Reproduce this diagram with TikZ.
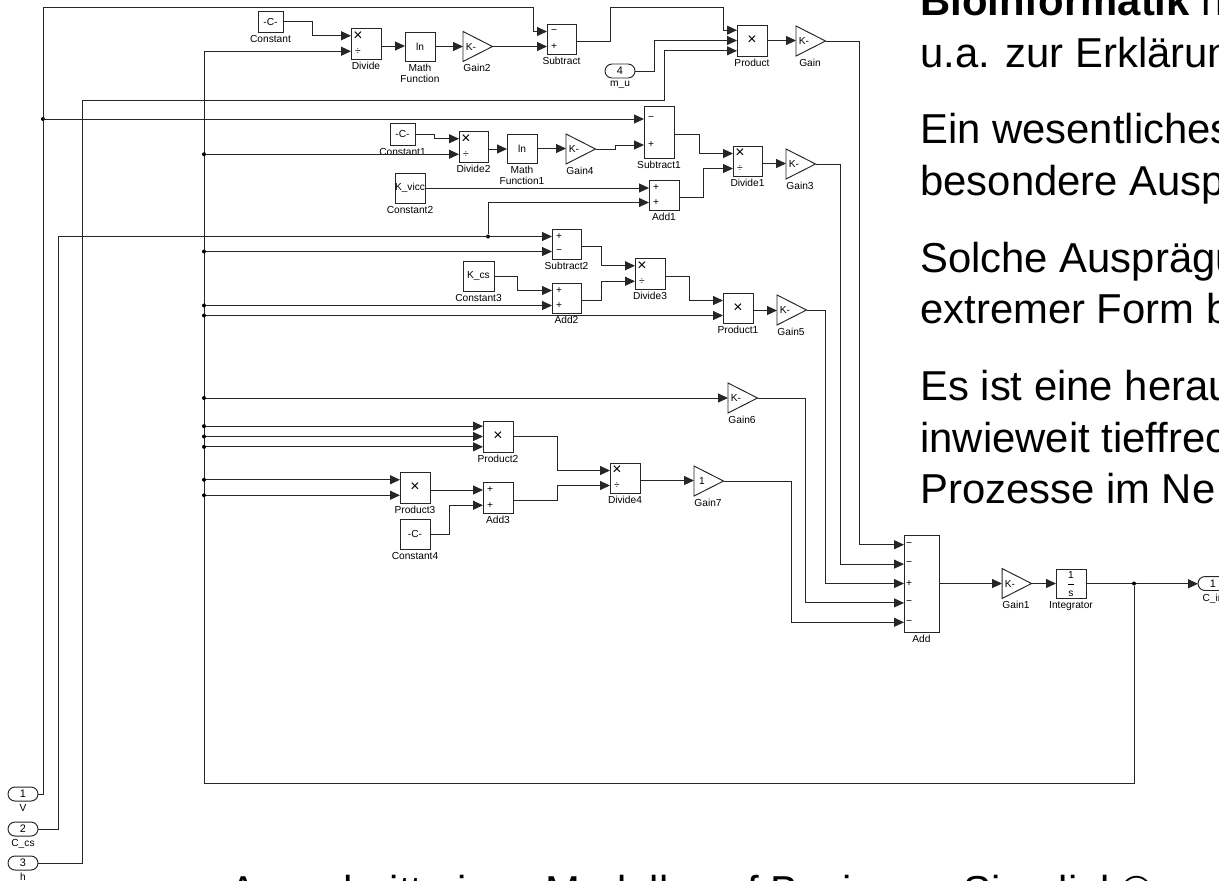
\documentclass[tikz,border=0pt]{standalone}
\usepackage{amsmath}
\usepackage{fontspec}
\setmainfont{Liberation Sans}
\usetikzlibrary{arrows.meta,calc,shapes.geometric,shapes.misc}
\newcommand{\mult}{{\fontsize{9pt}{9pt}\selectfont ×}}
\tikzset{
    wire/.style={line width=.55pt,black!85},
    sig/.style={wire,-{Triangle[length=.2cm,width=.18cm]}},
    lab/.style={font=\fontsize{5.8pt}{6.3pt}\selectfont,inner sep=0pt,align=center},
    block/.style={draw=black!85,line width=.55pt,anchor=north west,inner sep=0pt,outer sep=0pt,font=\fontsize{5.8pt}{6.3pt}\selectfont},
    gain/.style={draw=black!85,line width=.55pt,isosceles triangle,isosceles triangle stretches,inner sep=0pt,outer sep=0pt,minimum width=.6cm,minimum height=.59cm,anchor=lower side},
    port/.style={draw=black!85,line width=.55pt,rounded rectangle,inner sep=0pt,outer sep=0pt,minimum width=.6cm,minimum height=.28cm,font=\fontsize{6.2pt}{7pt}\selectfont},
    dot/.style={circle,fill=black,inner sep=0pt,minimum size=.08cm},
    slidetext/.style={font=\fontsize{23.8pt}{28pt}\selectfont,anchor=base west,inner sep=0pt}
}
\begin{document}
\begin{tikzpicture}[x=0.02cm,y=-0.02cm]
    \useasboundingbox (0,0) rectangle (1219,880);
    \clip (0,0) rectangle (1219,880);
    \foreach \name/\l/\t/\w/\h/\lab/\sym in {
        Constant/258/11/25/21/Constant/-C-,
        Divide/351/28/30/31/Divide/{},
        MathFunction/405/32/30/29/{Math\\Function}/ln,
        Subtract/547/24/29/30/Subtract/{},
        Product/737/25/30/31/Product/\mult,
        Constant1/390/123/25/22/Constant1/-C-,
        Divide2/459/131/29/31/Divide2/{},
        MathFunction1/507/134/30/29/{Math\\Function1}/ln,
        Subtract1/644/106/30/52/Subtract1/{},
        Divide1/733/146/29/30/Divide1/{},
        Constant2/395/173/30/30/Constant2/K\_vicc,
        Add1/649/180/30/30/Add1/{},
        Subtract2/552/229/29/30/Subtract2/{},
        Constant3/463/261/31/30/Constant3/K\_cs,
        Divide3/635/258/30/31/Divide3/{},
        Add2/552/283/29/30/Add2/{},
        Product1/723/293/30/30/Product1/\mult,
        Product2/483/421/30/31/Product2/\mult,
        Divide4/610/463/30/30/Divide4/{},
        Product3/400/472/30/31/Product3/\mult,
        Add3/483/482/30/31/Add3/{},
        Constant4/400/519/30/30/Constant4/-C-,
        Add/904/535/35/97/Add/{},
        Integrator/1056/569/30/29.5/Integrator/{$\dfrac{\text{1}}{\text{s}}$}}{
        \node[block,minimum width=\w*0.02cm,minimum height=\h*0.02cm,label={[lab,label distance=.06cm]below:\lab}] (\name) at (\l,\t) {\sym};
    }
    \foreach \name/\x/\y/\lab/\sym in {
        Gain/796/41/Gain/K-,
        Gain2/463/46.5/Gain2/K-,
        Gain4/566/149/Gain4/K-,
        Gain3/786/164/Gain3/K-,
        Gain5/777/310/Gain5/K-,
        Gain6/728/398/Gain6/K-,
        Gain7/694/481/Gain7/1,
        Gain1/1002/583.5/Gain1/K-}{
        \node[gain] (\name) at (\x,\y) {};
        \coordinate (\name-i) at (\name.lower side);
        \node[lab] (\name-sym) at ($(\name.lower side)+(8,0)$) {\sym};
        \node[lab] (\name-name) at ($(\name.lower side)+(14,21.5)$) {\lab};
    }
    \foreach \name/\x/\y/\num/\lab in {V/23/794/1/V,Ccs/23/829/2/C\_cs,h/23/863/3/h,mu/620/71/4/m\_u,Cin/1213/583.5/1/C\_in}{
        \node[port,label={[lab,label distance=.06cm]below:\lab}] (\name) at (\x,\y) {\num};
    }
    \foreach \name in {Divide,Subtract,Divide2,Subtract1,Divide1,Add1,Subtract2,Divide3,Add2,Product1,Divide4,Product3,Add3}{
        \coordinate (\name-1) at ($(\name.north west)!.25!(\name.south west)$);
        \coordinate (\name-2) at ($(\name.north west)!.75!(\name.south west)$);
        \coordinate (\name-o) at ($(\name.east)+(0,2.5)$);
    }
    \foreach \name in {Product,Product2}{
        \coordinate (\name-1) at ($(\name.north west)!.1667!(\name.south west)$);
        \coordinate (\name-2) at ($(\name.north west)!.5!(\name.south west)$);
        \coordinate (\name-3) at ($(\name.north west)!.8333!(\name.south west)$);
    }
    \foreach \i/\f in {1/.1,2/.3,3/.5,4/.7,5/.9}{
        \coordinate (Add-\i) at ($(Add.north west)!\f!(Add.south west)$);
    }
    \foreach \name/\a/\b in {Divide/\mult/÷,Subtract/−/+,Divide2/\mult/÷,Subtract1/−/+,Divide1/\mult/÷,Add1/+/+,Subtract2/+/−,Divide3/\mult/÷,Add2/+/+,Divide4/\mult/÷,Add3/+/+}{
        \node[lab] (\name-s1) at ($(\name-1)+(7,0)$) {\a};
        \node[lab] (\name-s2) at ($(\name-2)+(7,0)$) {\b};
    }
    \foreach \i/\s in {1/−,2/−,3/+,4/−,5/−}{
        \node[lab] (Add-s\i) at ($(Add-\i)+(5,0)$) {\s};
    }
    \foreach \a/\b in {Divide-o/MathFunction.west,MathFunction.east/Gain2-i,Gain2.apex/Subtract-2,Product.east/Gain-i,Divide2-o/MathFunction1.west,MathFunction1.east/Gain4-i,Divide1-o/Gain3-i,Constant2.east/Add1-1,Product1-o/Gain5-i,Divide4-o/Gain7-i,Product3-o/Add3-1,Add.east/Gain1-i,Gain1.apex/Integrator.west,Integrator.east/Cin.west}{
        \draw[sig] (\a) -- (\a -| \b);
    }
    \foreach \a/\dx/\b in {Constant.east/29/Divide-1,mu.east/19.5/Product-2,Constant1.east/19/Divide2-1,Gain4.apex/19.5/Subtract1-2,Subtract1-o/25/Divide1-1,Add1-o/24.5/Divide1-2,Subtract2-o/20/Divide3-1,Constant3.east/23.5/Add2-1,Add2-o/20/Divide3-2,Divide3-o/24/Product1-1,Product2.east/44/Divide4-1,Add3-o/44/Divide4-2,Constant4.east/19/Add3-2,Gain.apex/34/Add-1,Gain3.apex/25/Add-2,Gain5.apex/19/Add-3,Gain6.apex/48/Add-4,Gain7.apex/68/Add-5}{
        \draw[sig] (\a) -- ++(\dx,0) |- (\b);
    }
    \coordinate (topV) at (43,7);
    \coordinate (prodTop) at (723,7);
    \coordinate (hTop) at (82,100);
    \coordinate (busFoot) at (204,783);
    \node[dot] (vJoin) at (topV |- Subtract1-1) {};
    \node[dot] (csJoin) at (488,236.5) {};
    \node[dot] (outJoin) at (1134,583.5) {};
    \draw[sig] (V.east) -| (topV) -- ++(490,0) |- (Subtract-1);
    \draw[sig] (vJoin) -- (Subtract1-1);
    \draw[sig] (Ccs.east) -- ++(20,0) |- (Subtract2-1);
    \draw[sig] (csJoin) |- (Add1-2);
    \draw[sig] (h.east) -| (hTop) -- ++(582,0) |- (Product-3);
    \draw[sig] (Subtract-o) -- ++(34.5,0) |- (prodTop) |- (Product-1);
    \draw[sig] (outJoin) |- (busFoot) |- (Divide-2);
    \foreach \target in {Divide2-2,Subtract2-2,Add2-2,Product1-2,Gain6-i,Product2-1,Product2-2,Product2-3,Product3-1,Product3-2}{
        \node[dot] (bus-\target) at (busFoot |- \target) {};
        \draw[sig] (bus-\target) -- (\target);
    }
    \node[slidetext] (line1) at (920,15) {\textbf{Bioinformatik} n};
    \foreach \i/\y/\txt in {2/67/u.a. zur Erklärun,3/143/Ein wesentliches,4/195/besondere Ausp,5/272/Solche Ausprägu,6/323/extremer Form b,7/400/Es ist eine herau,8/452/inwieweit tieffrec,9/503/Prozesse im Ne}{
        \node[slidetext] (line\i) at (920,\y) {\txt};
    }
    \node[slidetext] (caption) at (229,905) {Ausschnitt eines Modells auf Basis von Simulink©};
\end{tikzpicture}
\end{document}
